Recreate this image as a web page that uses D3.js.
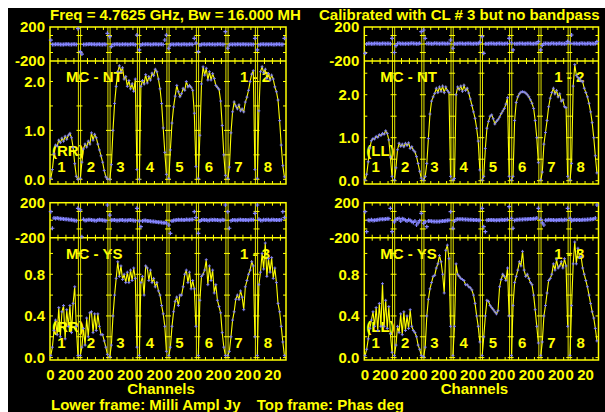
<!DOCTYPE html>
<html lang="en">
<head>
<meta charset="UTF-8" />
<title>POSSM MC</title>
<style>
  body { margin: 0; background: #000; }
  svg { display: block; }
  text { font-family: "Liberation Sans", Arial, sans-serif; font-weight: bold; font-size: 15px; fill: #ffff00; }
</style>
<script src="https://d3js.org/d3.v7.min.js"></script>
</head>
<body>
<script>
// ---- data: 8 IFs x 18 points per frame ----
const chanIdx = d3.range(1, 37, 2);
const ifNames = ["1", "2", "3", "4", "5", "6", "7", "8"];
const xTickLabels = [0, 20];
const ampLabelsTop = [0, 1, 2];
const ampLabelsBottom = [0, 0.4, 0.8];
const phsLabels = [-200, 200];

const ampNT_RR = [
  [0.02,0.2,0.52,0.7,0.68,0.8,0.75,0.84,0.78,0.88,0.82,0.9,0.94,0.85,0.65,0.32,0.06,0.0],
  [0.02,0.35,0.62,0.72,0.66,0.78,0.72,0.95,0.8,0.92,0.85,0.72,0.6,0.48,0.35,0.18,0.05,0.01],
  [0.0,0.3,1.0,1.55,1.9,2.2,2.32,2.2,2.28,2.05,2.1,1.9,2.02,1.85,1.95,1.8,2.05,0.2],
  [0.0,1.9,2.02,1.95,2.14,1.97,2.1,2.03,2.17,2.12,2.25,2.2,2.05,1.85,1.55,1.05,0.55,0.1],
  [0.02,0.6,1.15,1.48,1.7,1.92,1.79,1.69,1.75,1.86,1.82,2.0,1.89,1.92,1.88,1.82,1.35,0.26],
  [0.02,0.9,1.95,2.3,2.13,2.27,2.03,2.2,2.03,2.16,2.06,1.92,1.88,1.84,1.6,1.1,0.5,0.08],
  [0.02,0.25,0.95,1.38,1.58,1.5,1.44,1.52,1.4,1.44,1.38,1.58,1.68,1.82,2.0,2.15,2.22,0.2],
  [0.02,1.4,2.2,2.3,2.18,2.25,2.06,2.16,2.03,2.13,2.05,1.89,1.79,1.62,1.2,0.7,0.28,0.05]
];
const ampNT_LL = [
  [0.02,0.15,0.44,0.76,0.93,0.98,0.97,1.03,1.01,1.07,1.05,1.1,1.08,1.16,1.1,0.95,0.55,0.1],
  [0.02,0.3,0.72,0.87,0.8,0.85,0.79,0.87,0.82,0.88,0.75,0.79,0.71,0.67,0.56,0.4,0.22,0.06],
  [0.02,0.1,0.4,0.98,1.55,1.85,1.95,2.03,2.15,2.05,2.18,2.08,2.2,2.05,2.18,2.1,2.05,0.1],
  [0.02,0.05,2.0,2.18,2.12,2.2,2.08,2.22,2.1,2.15,2.04,1.9,1.75,1.6,1.45,1.22,0.92,0.25],
  [0.02,0.1,0.75,1.22,1.38,1.5,1.53,1.44,1.32,1.38,1.42,1.48,1.56,1.62,1.68,1.78,1.93,0.1],
  [0.02,0.1,1.4,1.82,1.95,2.02,2.06,2.07,2.06,2.04,2.0,1.95,1.88,1.8,1.68,1.4,1.0,0.42],
  [0.02,0.2,0.85,1.12,1.4,1.72,1.92,2.05,2.15,2.02,2.1,1.95,2.02,1.85,1.88,1.72,1.7,0.1],
  [0.02,0.4,2.2,2.7,2.45,2.4,2.36,2.32,2.3,2.15,2.05,1.95,1.8,1.6,1.35,1.0,0.58,0.18]
];
const ampYS_RR = [
  [0.02,0.1,0.26,0.36,0.22,0.48,0.2,0.44,0.5,0.18,0.46,0.3,0.5,0.24,0.52,0.68,0.3,0.02],
  [0.02,0.1,0.28,0.12,0.38,0.2,0.43,0.44,0.24,0.42,0.26,0.42,0.3,0.22,0.22,0.16,0.1,0.03],
  [0.01,0.12,0.4,0.6,0.76,0.92,0.78,0.88,0.75,0.8,0.72,0.82,0.72,0.84,0.74,0.86,0.76,0.1],
  [0.02,0.72,0.78,0.6,0.88,0.86,0.74,0.84,0.72,0.76,0.68,0.72,0.64,0.6,0.5,0.42,0.3,0.06],
  [0.02,0.1,0.3,0.44,0.54,0.58,0.5,0.6,0.6,0.68,0.8,0.84,0.72,0.82,0.66,0.74,0.66,0.3],
  [0.02,0.55,0.78,0.8,0.84,0.94,0.7,0.88,0.74,0.84,0.62,0.7,0.55,0.49,0.43,0.24,0.1,0.02],
  [0.02,0.06,0.2,0.36,0.44,0.56,0.6,0.56,0.64,0.58,0.46,0.68,0.74,0.8,0.84,0.92,0.88,0.2],
  [0.02,0.7,0.82,1.0,0.85,1.1,0.78,0.95,0.82,0.96,0.76,0.86,0.72,0.52,0.44,0.3,0.15,0.02]
];
const ampYS_LL = [
  [0.02,0.08,0.18,0.28,0.36,0.44,0.3,0.48,0.26,0.52,0.3,0.71,0.3,0.55,0.28,0.49,0.23,0.05],
  [0.02,0.12,0.3,0.24,0.42,0.22,0.44,0.26,0.4,0.28,0.46,0.3,0.26,0.24,0.2,0.12,0.08,0.02],
  [0.01,0.1,0.4,0.56,0.66,0.72,0.78,0.79,0.86,0.9,0.98,0.92,0.8,0.62,1.03,1.08,0.95,0.3],
  [0.02,0.3,0.9,0.8,0.78,0.76,0.75,0.74,0.7,0.7,0.68,0.67,0.65,0.6,0.52,0.4,0.3,0.15],
  [0.02,0.2,0.4,0.55,0.54,0.5,0.48,0.46,0.44,0.42,0.45,0.68,0.75,0.8,0.78,0.74,0.86,0.4],
  [0.02,0.5,0.72,0.78,0.84,0.92,0.88,1.02,0.84,0.78,0.8,0.76,0.72,0.7,0.6,0.46,0.3,0.14],
  [0.02,0.15,0.4,0.5,0.62,0.74,0.76,0.8,0.9,0.84,0.94,0.86,0.88,0.92,0.86,0.95,0.88,0.3],
  [0.02,0.5,0.9,1.11,0.9,1.05,0.96,0.97,0.86,0.8,0.74,0.68,0.6,0.52,0.44,0.38,0.28,0.16]
];

const phsNT_RR = [
  [45,-6,-5,-4,-3,-4,-6,-5,-7,-4,-2,-4,-5,-6,-2,-4,-6,180],
  [-90,-118,-6,-5,-4,-3,-1,-2,-3,-4,-6,-4,-2,-6,-5,-2,-6,126],
  [86,-30,-5,-6,-2,-3,-6,-5,-4,-5,-2,-6,-5,-2,-3,-4,-8,106],
  [-70,-12,-4,-5,-4,-3,-4,-6,-5,-3,-2,-4,-6,-2,-3,-6,47,106],
  [-50,-10,-3,-5,-6,-4,-2,-6,-5,-3,-4,-5,-6,-2,-4,-6,67,10],
  [-90,-12,-5,-4,-3,-6,-4,-2,-5,-3,-6,-5,-4,-2,-3,-6,-5,145],
  [-50,-10,-4,-6,-3,-5,-4,-2,-6,-3,-2,-5,-4,-6,-3,-5,-5,67],
  [-70,-8,-5,-3,-4,-6,-2,-5,-4,-3,-6,-5,-2,-4,-3,-6,-5,67]
];
const phsNT_LL = [
  [-110,0,6,5,4,2,7,6,5,3,4,7,6,3,6,5,3,67],
  [-100,-20,6,8,3,5,4,3,5,3,6,8,6,5,4,3,8,145],
  [165,67,5,6,5,3,4,8,6,5,3,5,7,5,4,5,6,47],
  [-50,2,4,3,7,6,5,4,3,7,6,5,4,3,7,3,5,20],
  [86,-110,2,4,3,7,6,5,4,3,7,6,5,4,3,7,6,67],
  [15,-70,3,4,3,7,6,5,4,3,7,6,5,4,3,7,6,27],
  [-70,-15,5,6,5,4,3,8,6,5,3,5,8,4,5,4,5,30],
  [10,106,5,6,5,4,3,8,6,5,3,5,8,4,5,4,5,27]
];
const phsYS_RR = [
  [97,-92,25,20,24,20,18,16,14,12,10,8,6,4,0,-2,-6,136],
  [117,-189,10,-4,0,4,6,2,0,-2,-6,3,5,2,0,-2,-5,174],
  [59,0,2,3,-2,-3,0,3,1,-3,-1,-2,3,2,0,-2,-5,136],
  [-10,-74,-8,-3,-2,-8,-10,-12,-14,-16,-18,-20,-22,-24,-26,-28,-30,-32],
  [-55,-150,-10,-2,0,2,4,3,5,3,2,7,5,4,9,7,97,30],
  [-150,-10,3,4,2,1,-2,0,5,3,4,2,1,0,-2,5,3,174],
  [97,-92,-5,3,2,0,-1,6,4,3,2,3,2,0,5,4,6,79],
  [174,10,0,-2,5,3,4,5,-1,6,4,3,1,2,3,5,97,30]
];
const phsYS_LL = [
  [97,-131,0,-2,5,-3,0,2,5,8,10,12,10,14,16,18,136,-131],
  [-20,10,15,20,-10,18,10,0,-8,5,-2,-15,-25,-10,-55,-30,-5,79],
  [-35,-20,-74,-8,-10,-12,-14,-15,-16,-15,-14,-12,-10,-8,-5,-3,-1,97],
  [-92,-10,8,10,12,11,10,9,8,7,6,5,4,3,2,1,0,-1],
  [136,-74,-131,0,2,3,2,1,0,-1,1,0,4,3,2,6,8,155],
  [20,-92,-3,5,6,7,8,9,10,11,12,13,14,15,16,18,25,136],
  [10,-30,-55,0,-1,4,3,2,1,0,-1,3,2,4,0,5,6,136],
  [20,-5,3,4,2,6,2,3,4,5,6,7,8,10,12,15,25,174]
];

// ---- layout ----
const W = 605, H = 412;
const yellow = "#ffff00", sepColor = "#e0e000", markColor = "#8585ff";
const cols = [{x0: 50, x1: 286}, {x0: 364.3, x1: 598.5}];
const rows = [{top: 27, mid: 61, bot: 184}, {top: 202.7, mid: 237.7, bot: 360}];

const panels = [
  {amp: ampNT_RR, phs: phsNT_RR, src: "MC - NT", base: "1 - 2", pol: "(RR)", col: 0, row: 0, dom: [-0.096, 2.419], labels: ampLabelsTop, minor: 0.5},
  {amp: ampNT_LL, phs: phsNT_LL, src: "MC - NT", base: "1 - 2", pol: "(LL)", col: 1, row: 0, dom: [-0.077, 2.784], labels: ampLabelsTop, minor: 0.5},
  {amp: ampYS_RR, phs: phsYS_RR, src: "MC - YS", base: "1 - 3", pol: "(RR)", col: 0, row: 1, dom: [-0.023, 1.151], labels: ampLabelsBottom, minor: 0.2},
  {amp: ampYS_LL, phs: phsYS_LL, src: "MC - YS", base: "1 - 3", pol: "(LL)", col: 1, row: 1, dom: [-0.023, 1.151], labels: ampLabelsBottom, minor: 0.2}
];

const svg = d3.select("body").append("svg").attr("width", W).attr("height", H);
svg.append("rect").attr("width", W).attr("height", H).attr("fill", "#000");
svg.append("rect").attr("width", W).attr("height", 8).attr("fill", "#fff");
svg.append("rect").attr("width", 8).attr("height", H).attr("fill", "#fff");

const plus = "M-1.5,0H1.5M0,-1.5V1.5";
const plusBig = "M-2,0H2M0,-2V2";

panels.forEach(p => {
  const c = cols[p.col], r = rows[p.row];
  const w = (c.x1 - c.x0) / ifNames.length;
  const xs = ifNames.map((n, i) => d3.scaleLinear().domain([0, 37]).range([c.x0 + i * w, c.x0 + (i + 1) * w]));
  const yP = d3.scaleLinear().domain([-200, 200]).range([r.mid, r.top]);
  const yA = d3.scaleLinear().domain(p.dom).range([r.bot, r.mid]);
  const g = svg.append("g");

  // labels inside the amplitude frame
  g.append("text").attr("x", c.x0 + 16).attr("y", r.mid + 21).text(p.src);
  g.append("text").attr("x", c.x0 + 190).attr("y", r.mid + 21).text(p.base);
  g.append("text").attr("x", c.x0 + 2).attr("y", r.bot - 28).text(p.pol);
  ifNames.forEach((n, i) => {
    g.append("text").attr("x", xs[i](0) + 7.3).attr("y", r.bot - 12.5).text(n);
  });

  // IF separators (double lines)
  d3.range(1, ifNames.length).forEach(k => {
    const xb = xs[k](0);
    [-1.1, 1.1].forEach(o => {
      g.append("line").attr("x1", xb + o).attr("x2", xb + o).attr("y1", r.top).attr("y2", r.bot)
        .attr("stroke", sepColor).attr("stroke-width", 1);
    });
  });

  // tick marks
  const edges = [c.x0, ...d3.range(1, ifNames.length).map(k => xs[k](0)), c.x1];
  const tk = g.append("g").attr("stroke", yellow).attr("stroke-width", 1);
  const ampMinor = d3.range(0, p.dom[1], p.minor);
  edges.forEach((e, j) => {
    const a = j === 0 ? e : e - 3, b = j === edges.length - 1 ? e : e + 3;
    ampMinor.forEach(v => tk.append("line").attr("x1", a).attr("x2", b).attr("y1", yA(v)).attr("y2", yA(v)));
    [-100, 0, 100].forEach(v => tk.append("line").attr("x1", a).attr("x2", b).attr("y1", yP(v)).attr("y2", yP(v)));
  });
  xs.forEach(x => {
    [10, 20, 30].forEach(ch => {
      const xv = x(ch);
      tk.append("line").attr("x1", xv).attr("x2", xv).attr("y1", r.top).attr("y2", r.top + 3);
      tk.append("line").attr("x1", xv).attr("x2", xv).attr("y1", r.mid - 3).attr("y2", r.mid + 3);
      tk.append("line").attr("x1", xv).attr("x2", xv).attr("y1", r.bot - 3).attr("y2", r.bot);
    });
  });

  // frames
  g.append("rect").attr("x", c.x0).attr("y", r.top).attr("width", c.x1 - c.x0).attr("height", r.bot - r.top)
    .attr("fill", "none").attr("stroke", yellow).attr("stroke-width", 1.5);
  g.append("line").attr("x1", c.x0).attr("x2", c.x1).attr("y1", r.mid).attr("y2", r.mid)
    .attr("stroke", yellow).attr("stroke-width", 1.5);

  // axes labels
  g.append("g").attr("transform", `translate(${c.x0},0)`)
    .call(d3.axisLeft(yA).tickValues(p.labels).tickFormat(d3.format(".1f")).tickSize(0).tickPadding(5))
    .call(a => a.select(".domain").remove());
  g.append("g").attr("transform", `translate(${c.x0},0)`)
    .call(d3.axisLeft(yP).tickValues(phsLabels).tickFormat(d => String(d)).tickSize(0).tickPadding(5))
    .call(a => a.select(".domain").remove());
  if (p.row === 1) {
    xs.forEach(x => {
      g.append("g").attr("transform", `translate(0,${r.bot})`)
        .call(d3.axisBottom(x).tickValues(xTickLabels).tickSize(0).tickPadding(9.4))
        .call(a => a.select(".domain").remove());
    });
  }

  // data: phase as points, amplitude as a yellow line with markers
  xs.forEach((x, i) => {
    const amp = p.amp[i], phs = p.phs[i];
    g.append("g").selectAll("path").data(phs).join("path")
      .attr("d", plusBig)
      .attr("transform", (d, j) => `translate(${x(chanIdx[j])},${yP(d)})`)
      .attr("stroke", markColor).attr("stroke-width", 1.2).attr("fill", "none");
    g.append("path").datum(amp)
      .attr("d", d3.line().x((d, j) => x(chanIdx[j])).y(d => yA(d)))
      .attr("fill", "none").attr("stroke", yellow).attr("stroke-width", 1.1);
    g.append("g").selectAll("path").data(amp).join("path")
      .attr("d", plus)
      .attr("transform", (d, j) => `translate(${x(chanIdx[j])},${yA(d)})`)
      .attr("stroke", markColor).attr("stroke-width", 0.9).attr("fill", "none");
  });

  if (p.row === 1) {
    g.append("text").attr("x", (c.x0 + c.x1) / 2 - 7).attr("y", 393.5)
      .attr("text-anchor", "middle").text("Channels");
  }
});

svg.append("text").attr("x", 50).attr("y", 20).text("Freq = 4.7625 GHz, Bw = 16.000 MH");
svg.append("text").attr("x", 319).attr("y", 20).text("Calibrated with CL # 3 but no bandpass");
svg.append("text").attr("x", 51).attr("y", 409.5).text("Lower frame: Milli Ampl Jy");
svg.append("text").attr("x", 256.7).attr("y", 409.5).text("Top frame: Phas deg");
</script>
</body>
</html>
